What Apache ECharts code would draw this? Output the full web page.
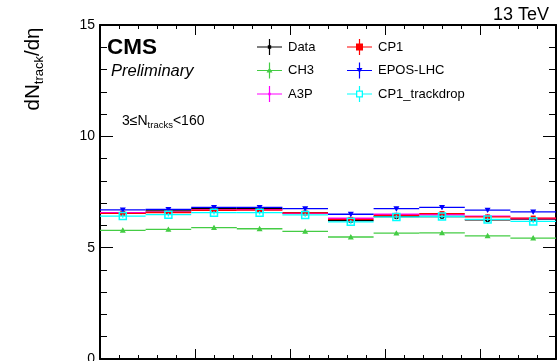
<!DOCTYPE html>
<html lang="en">
  <head>
    <meta charset="utf-8" />
    <title>dNtrack/deta</title>
    <style>
      html,
      body,
      #container {
        margin: 0;
        height: 100%;
        width: 100%;
        background: #fff;
      }
    </style>
  </head>

  <body>
    <div id="container"></div>
    <script src="https://cdn.jsdelivr.net/npm/echarts@6/dist/echarts.min.js"></script>
    <script>
      // bins along the x axis (axis labels are off-picture)
      const binCenters = [0.24, 0.72, 1.2, 1.68, 2.16, 2.64, 3.12, 3.6, 4.08, 4.56]
      const binWidth = 0.48
      const errBar = 0.08

      const dataValues = [6.55, 6.65, 6.75, 6.75, 6.56, 6.21, 6.39, 6.40, 6.25, 6.28]
      const ch3Values = [5.78, 5.82, 5.90, 5.85, 5.73, 5.48, 5.65, 5.66, 5.53, 5.43]
      const a3pValues = [6.57, 6.60, 6.70, 6.71, 6.54, 6.32, 6.50, 6.48, 6.42, 6.31]
      const cp1Values = [6.54, 6.58, 6.68, 6.69, 6.56, 6.27, 6.45, 6.53, 6.38, 6.33]
      const eposValues = [6.70, 6.72, 6.81, 6.81, 6.75, 6.50, 6.75, 6.81, 6.69, 6.61]
      const trackdropValues = [6.42, 6.48, 6.57, 6.57, 6.47, 6.16, 6.38, 6.40, 6.27, 6.18]

      const yTicks = [0, 5, 10, 15]

      const font = "'Liberation Sans', Arial, Helvetica, sans-serif"

      let chart = echarts.init(document.getElementById('container'))

      function toPairs(vals) {
        return vals.map((v, i) => [binCenters[i], v])
      }

      // marker drawn at bin centre, ROOT style
      function markerShape(m, c, color) {
        const s = m.size / 2
        if (m.shape === 'square') {
          return {
            type: 'rect',
            shape: { x: c[0] - s, y: c[1] - s, width: m.size, height: m.size },
            style: m.open ? { fill: 'none', stroke: color, lineWidth: 1.5 } : { fill: color },
          }
        }
        if (m.shape === 'up') {
          return {
            type: 'polygon',
            shape: { points: [[c[0], c[1] - s], [c[0] + s, c[1] + s * 0.8], [c[0] - s, c[1] + s * 0.8]] },
            style: { fill: color },
          }
        }
        if (m.shape === 'down') {
          return {
            type: 'polygon',
            shape: { points: [[c[0] - s, c[1] - s * 0.8], [c[0] + s, c[1] - s * 0.8], [c[0], c[1] + s]] },
            style: { fill: color },
          }
        }
        return { type: 'circle', shape: { cx: c[0], cy: c[1], r: s }, style: { fill: color } }
      }

      function histItem(color, marker) {
        return function (params, api) {
          const x = api.value(0)
          const y = api.value(1)
          const l = api.coord([x - binWidth / 2, y])
          const r = api.coord([x + binWidth / 2, y])
          const c = api.coord([x, y])
          const t = api.coord([x, y + errBar])
          const b = api.coord([x, y - errBar])
          return {
            type: 'group',
            children: [
              { type: 'line', shape: { x1: l[0], y1: l[1], x2: r[0], y2: r[1] }, style: { stroke: color, lineWidth: 1.3 } },
              { type: 'line', shape: { x1: c[0], y1: t[1], x2: c[0], y2: b[1] }, style: { stroke: color, lineWidth: 1.3 } },
              markerShape(marker, c, color),
            ],
          }
        }
      }

      function histSeries(name, vals, color, marker) {
        return {
          name: name,
          type: 'custom',
          data: toPairs(vals),
          itemStyle: { color: color },
          renderItem: histItem(color, marker),
          silent: true,
        }
      }

      // legend icons: horizontal line + vertical error bar + marker (25 x 16 box)
      const crossBase = 'M0,7.4h25v1.2h-25z M11.9,0h1.2v16h-1.2z '
      const icons = {
        Data: 'path://' + crossBase + 'M10.8,6.3h3.4v3.4h-3.4z',
        CH3: 'path://' + crossBase + 'M12.5,5l3,5h-6z',
        A3P: 'path://' + crossBase + 'M11.3,6.8h2.4v2.4h-2.4z',
        CP1: 'path://' + crossBase + 'M9,4.5h7v7h-7z',
        'EPOS-LHC': 'path://' + crossBase + 'M9.5,5.5h6l-3,5z',
        CP1_trackdrop:
          'path://M0,7.4h9v1.2h-9z M16,7.4h9v1.2h-9z M11.9,0h1.2v4.5h-1.2z M11.9,11.5h1.2v4.5h-1.2z ' +
          'M9,4.5h7v7h-7z M10.3,5.8v4.4h4.4v-4.4z',
      }

      function legendBlock(names, left) {
        return {
          orient: 'vertical',
          left: left,
          top: 39,
          padding: 0,
          itemWidth: 25,
          itemHeight: 16,
          itemGap: 7.5,
          selectedMode: false,
          textStyle: { fontFamily: font, fontSize: 13, color: '#000', padding: [0, 0, 0, 1] },
          data: names.map((n) => ({ name: n, icon: icons[n] })),
        }
      }

      function frameX(position, showLabels) {
        return {
          type: 'value',
          position: position,
          min: 0,
          max: 4.8,
          interval: 1,
          axisLine: { show: true, onZero: false, lineStyle: { color: '#000', width: 2 } },
          axisTick: { show: true, inside: true, length: 10, lineStyle: { color: '#000', width: 1 } },
          minorTick: { show: true, splitNumber: 5, length: 4, lineStyle: { color: '#000', width: 1 } },
          axisLabel: { show: showLabels },
          splitLine: { show: false },
        }
      }

      function frameY(position, showLabels) {
        return {
          type: 'value',
          position: position,
          min: yTicks[0],
          max: yTicks[yTicks.length - 1],
          interval: 5,
          axisLine: { show: true, onZero: false, lineStyle: { color: '#000', width: 2 } },
          axisTick: { show: true, inside: true, length: 13, lineStyle: { color: '#000', width: 1 } },
          minorTick: { show: true, splitNumber: 5, length: 7, lineStyle: { color: '#000', width: 1 } },
          axisLabel: { show: showLabels, fontFamily: font, fontSize: 14, color: '#000', margin: 5 },
          splitLine: { show: false },
        }
      }

      let option = {
        animation: false,
        backgroundColor: '#fff',
        grid: { left: 100, right: 3, top: 25, bottom: 2, containLabel: false, outerBoundsMode: 'none' },
        xAxis: [frameX('bottom', false), frameX('top', false)],
        yAxis: [frameY('left', true), frameY('right', false)],
        legend: [
          legendBlock(['Data', 'CH3', 'A3P'], 257),
          legendBlock(['CP1', 'EPOS-LHC', 'CP1_trackdrop'], 347),
        ],
        graphic: [
          {
            type: 'text',
            x: 549,
            y: 15,
            style: { text: '13 TeV', fontFamily: font, fontSize: 18, fill: '#000', align: 'right', verticalAlign: 'middle' },
          },
          {
            type: 'text',
            x: 107,
            y: 48,
            style: { text: 'CMS', fontFamily: font, fontSize: 22.5, fontWeight: 'bold', fill: '#000', verticalAlign: 'middle' },
          },
          {
            type: 'text',
            x: 111,
            y: 71,
            style: { text: 'Preliminary', fontFamily: font, fontSize: 16.5, fontStyle: 'italic', fill: '#000', verticalAlign: 'middle' },
          },
          {
            type: 'text',
            x: 122,
            y: 121,
            style: {
              text: '{a|3≤N}{s|tracks}{a|<160}',
              verticalAlign: 'middle',
              rich: {
                a: { fontFamily: font, fontSize: 14, fill: '#000', lineHeight: 18 },
                s: { fontFamily: font, fontSize: 9.5, fill: '#000', lineHeight: 10, verticalAlign: 'bottom' },
              },
            },
          },
          {
            type: 'text',
            x: 33,
            y: 69,
            rotation: Math.PI / 2,
            style: {
              text: '{a|dN}{s|track}{a|/dη}',
              align: 'center',
              verticalAlign: 'middle',
              rich: {
                a: { fontFamily: font, fontSize: 20.5, fill: '#000', lineHeight: 26 },
                s: { fontFamily: font, fontSize: 13, fill: '#000', lineHeight: 13, verticalAlign: 'bottom' },
              },
            },
          },
        ],
        series: [
          histSeries('Data', dataValues, '#000000', { shape: 'circle', size: 5 }),
          histSeries('CH3', ch3Values, '#44cc44', { shape: 'up', size: 6 }),
          histSeries('A3P', a3pValues, '#ff00ff', { shape: 'circle', size: 3 }),
          histSeries('CP1', cp1Values, '#ff0000', { shape: 'square', size: 5 }),
          histSeries('EPOS-LHC', eposValues, '#0000ff', { shape: 'down', size: 6 }),
          histSeries('CP1_trackdrop', trackdropValues, '#00ffff', { shape: 'square', size: 7, open: true }),
        ],
      }
      chart.setOption(option)
    </script>
  </body>
</html>
